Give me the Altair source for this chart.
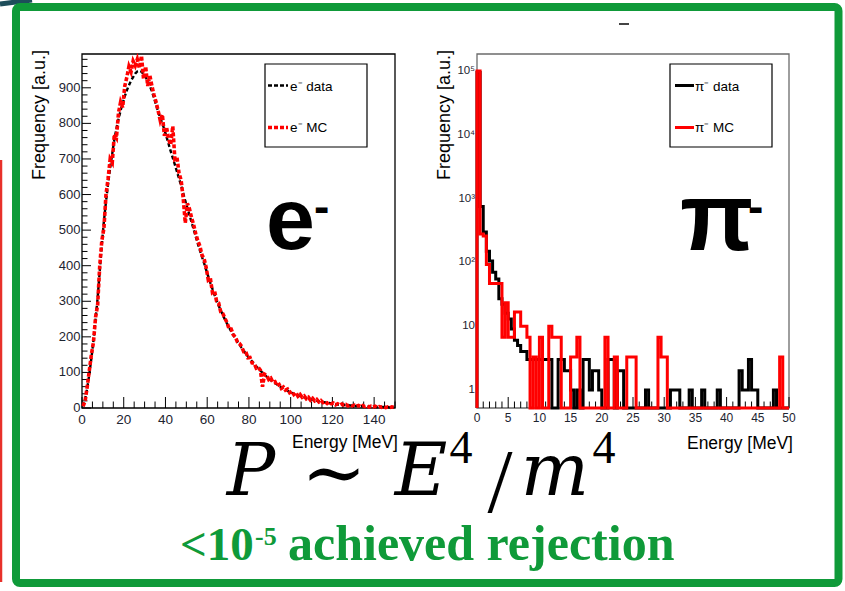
import altair as alt
import pandas as pd

# ---------------- electron spectrum: 1 MeV bins, 0-150 MeV ----------------
e_data = [5, 25, 55, 95, 140, 190, 250, 310, 385, 460,
          525, 580, 630, 675, 715, 755, 785, 812, 836, 857,
          876, 893, 907, 920, 930, 940, 946, 948, 945, 938,
          930, 920, 905, 890, 872, 852, 833, 815, 800, 782,
          762, 742, 722, 703, 684, 664, 645, 625, 604, 582,
          562, 542, 522, 502, 482, 462, 443, 425, 407, 388,
          370, 352, 335, 318, 302, 288, 274, 261, 249, 237,
          226, 215, 205, 196, 187, 178, 169, 161, 153, 145,
          138, 131, 124, 117, 111, 105, 99, 93, 88, 83,
          78, 74, 70, 66, 62, 58, 55, 52, 49, 46,
          43, 40, 38, 36, 34, 32, 30, 28, 26, 25,
          23, 22, 20, 19, 18, 17, 16, 15, 14, 13,
          12, 11, 10, 10, 9, 9, 8, 8, 7, 7,
          6, 6, 6, 5, 5, 5, 4, 4, 4, 4,
          3, 3, 3, 3, 3, 2, 2, 2, 2, 2]

e_mc = [5, 20, 60, 105, 150, 185, 255, 290, 400, 470,
        505, 600, 645, 700, 690, 770, 760, 830, 860, 845,
        905, 930, 960, 945, 975, 962, 980, 955, 990, 925,
        960, 905, 935, 905, 880, 860, 835, 808, 825, 765,
        790, 755, 740, 792, 700, 705, 660, 640, 590, 520,
        575, 560, 535, 515, 490, 470, 455, 430, 420, 395,
        360, 365, 325, 330, 300, 295, 270, 265, 252, 240,
        222, 222, 206, 200, 185, 181, 173, 158, 158, 141,
        142, 127, 126, 112, 114, 106, 60, 95, 92, 80,
        84, 72, 74, 62, 66, 55, 59, 50, 53, 43,
        47, 38, 44, 33, 38, 30, 34, 26, 30, 22,
        27, 20, 24, 17, 21, 15, 18, 13, 17, 12,
        14, 9, 12, 8, 11, 8, 10, 6, 9, 6,
        8, 5, 7, 4, 7, 4, 6, 3, 5, 3,
        5, 2, 4, 2, 4, 1, 3, 1, 3, 2]

# ---------------- pion spectrum: 0.5 MeV bins, 0-50 MeV ----------------
pi_data = [95000, 750, 300, 150, 105, 70, 55, 27, 22, 16,
           13, 9, 6, 5, 4, 4, 3, 3, 3, 3,
           3, 3, 3, 3, 0, 0, 3, 3, 2, 2,
           1, 0, 1, 0, 3, 3, 1, 2, 2, 1,
           0, 0, 3, 3, 0, 2, 2, 0, 0, 0,
           0, 0, 0, 0, 1, 0, 0, 0, 0, 0,
           0, 0, 1, 1, 1, 0, 0, 0, 1, 0,
           0, 0, 1, 0, 0, 0, 0, 1, 0, 0,
           0, 0, 0, 0, 2, 1, 1, 3, 1, 1,
           0, 0, 0, 0, 0, 1, 0, 0, 0, 0]

pi_mc = [100000, 280, 260, 93, 46.7, 46.7, 46.7, 46.7, 6.7, 23.3,
         6.7, 6.7, 16.7, 16.7, 10, 10, 6.7, 0, 3.3, 0,
         6.7, 0, 0, 10, 6.7, 6.7, 6.7, 0, 0, 0,
         3.3, 3.3, 6.7, 0, 0, 0, 0, 0, 0, 0,
         0, 6.7, 0, 0, 3.3, 0, 0, 0, 3.3, 3.3,
         3.3, 0, 0, 0, 0, 0, 0, 0, 6.7, 3.3,
         3.3, 0, 0, 0, 0, 0, 0, 0, 0, 0,
         0, 0, 0, 0, 0, 0, 0, 0, 0, 0,
         0, 0, 0, 0, 0, 0, 0, 0, 0, 0,
         0, 0, 0, 0, 0, 0, 0, 3.3, 0, 0]

E_BIN = 1.0
PI_BIN = 0.5

# tick positions and tick labels
e_x_major = list(range(0, 141, 20))
e_x_minor = [v for v in range(0, 151, 5) if v % 20]
e_y_major = list(range(0, 901, 100))
e_y_minor = [v for v in range(0, 991, 20) if v % 100]
pi_x_major = list(range(0, 51, 5))
pi_x_minor = [v for v in range(0, 51) if v % 5]
pi_y_major = [1, 10, 100, 1000, 10000, 100000]
pi_y_labels = ["1", "10", "10²", "10³", "10⁴", "10⁵"]

E_MAX, E_FREQ_MAX = 150, 995
PI_MAX, PI_FREQ_MIN, PI_FREQ_MAX = 50, 0.522, 1.85e5

GREEN = "#0f9a39"
RED = "#ff0000"
SANS = "Liberation Sans"
SERIF = "Liberation Serif"
MATH = "DejaVu Serif"
LABEL = "#1d2430"

# frame geometry (pixels on the canvas)
LX0, LX1 = 82, 395
RX0, RX1 = 477, 789
FY0, FY1 = 408, 54

ex = alt.Scale(domain=[0, E_MAX], range=[LX0, LX1], nice=False, zero=False)
ey = alt.Scale(domain=[0, E_FREQ_MAX], range=[FY0, FY1], nice=False, zero=False)
px = alt.Scale(domain=[0, PI_MAX], range=[RX0, RX1], nice=False, zero=False)
py = alt.Scale(type="log", domain=[PI_FREQ_MIN, PI_FREQ_MAX], range=[FY0, FY1], nice=False)

one = pd.DataFrame({"_": [0]})


def frame(xs, ys, x0, x1, y0, y1, color):
    df = pd.DataFrame({"x0": [x0], "x1": [x1], "y0": [y0], "y1": [y1]})
    return alt.Chart(df).mark_rect(fillOpacity=0, stroke=color, strokeWidth=1.3).encode(
        x=alt.X("x0:Q", scale=xs, axis=None), x2="x1",
        y=alt.Y("y0:Q", scale=ys, axis=None), y2="y1")


def x_ticks(values, xs, length):
    return alt.Chart(pd.DataFrame({"t": values})).mark_rule(color="black", strokeWidth=1).encode(
        x=alt.X("t:Q", scale=xs, axis=None), y=alt.value(FY0), y2=alt.value(FY0 - length))


def y_ticks(values, ys, x0, length):
    return alt.Chart(pd.DataFrame({"t": values})).mark_rule(color="black", strokeWidth=1).encode(
        y=alt.Y("t:Q", scale=ys, axis=None), x=alt.value(x0), x2=alt.value(x0 + length))


def x_labels(values, xs, size):
    return alt.Chart(pd.DataFrame({"t": values})).mark_text(
        font=SANS, fontSize=size, color=LABEL, align="center", baseline="top").encode(
        x=alt.X("t:Q", scale=xs, axis=None), y=alt.value(FY0 + 4.5),
        text=alt.Text("t:Q", format="d"))


def y_labels(values, labels, ys, x_right, size):
    df = pd.DataFrame({"t": values, "lab": labels})
    return alt.Chart(df).mark_text(
        font=SANS, fontSize=size, color=LABEL, align="right", baseline="middle").encode(
        y=alt.Y("t:Q", scale=ys, axis=None), x=alt.value(x_right), text="lab:N")


def text(s, x, y, size, font=SANS, weight="normal", style="normal", color="black",
         align="left", angle=0):
    return alt.Chart(one).mark_text(text=s, font=font, fontSize=size, fontWeight=weight,
                                    fontStyle=style, color=color, align=align, angle=angle,
                                    baseline="alphabetic").encode(
        x=alt.value(x), y=alt.value(y))


def seg(x, y, x2, y2, color, width, dash=None):
    kw = dict(color=color, strokeWidth=width, strokeCap="butt")
    if dash:
        kw["strokeDash"] = dash
    return alt.Chart(one).mark_rule(**kw).encode(
        x=alt.value(x), y=alt.value(y), x2=alt.value(x2), y2=alt.value(y2))


def box(x, y, x2, y2, stroke, width, fill_opacity=1.0, radius=0):
    return alt.Chart(one).mark_rect(fill="white", fillOpacity=fill_opacity, stroke=stroke,
                                    strokeWidth=width, cornerRadius=radius).encode(
        x=alt.value(x), y=alt.value(y), x2=alt.value(x2), y2=alt.value(y2))


# ---------------- left panel: electrons ----------------
e_df = pd.DataFrame({"E": [(i + 0.5) * E_BIN for i in range(len(e_data))],
                     "data": e_data, "mc": e_mc})

e_black = alt.Chart(e_df).mark_line(color="black", strokeWidth=2.4, strokeDash=[4, 2.5]).encode(
    x=alt.X("E:Q", scale=ex, axis=None), y=alt.Y("data:Q", scale=ey, axis=None))
e_red = alt.Chart(e_df).mark_line(color=RED, strokeWidth=3.6, strokeDash=[4, 2]).encode(
    x=alt.X("E:Q", scale=ex, axis=None), y=alt.Y("mc:Q", scale=ey, axis=None))

left = alt.layer(
    frame(ex, ey, 0, E_MAX, 0, E_FREQ_MAX, "black"),
    x_ticks(e_x_major, ex, 11), x_ticks(e_x_minor, ex, 6.5),
    y_ticks(e_y_major, ey, LX0, 9), y_ticks(e_y_minor, ey, LX0, 5.5),
    x_labels(e_x_major, ex, 13.5),
    y_labels(e_y_major, [str(v) for v in e_y_major], ey, LX0 - 1.5, 13),
    e_black, e_red)


# ---------------- right panel: pions (log scale, step histogram) ----------------
def step_table(counts, width):
    rows = [{"E": 0.0, "n": 0.0, "k": 0}]
    for i, c in enumerate(counts):
        rows.append({"E": i * width, "n": c, "k": i + 1})
    end = len(counts) * width
    rows.append({"E": end, "n": counts[-1], "k": len(counts) + 1})
    rows.append({"E": end, "n": 0.0, "k": len(counts) + 2})
    return pd.DataFrame(rows)


def pi_line(counts, color):
    # empty bins sit on the lower edge of the log axis
    return alt.Chart(step_table(counts, PI_BIN)).transform_calculate(
        shown=f"max(datum.n, {PI_FREQ_MIN})"
    ).mark_line(color=color, strokeWidth=3, interpolate="step-after", strokeJoin="miter").encode(
        x=alt.X("E:Q", scale=px, axis=None),
        y=alt.Y("shown:Q", scale=py, axis=None),
        order=alt.Order("k:Q"))


right = alt.layer(
    frame(px, py, 0, PI_MAX, PI_FREQ_MIN, PI_FREQ_MAX, "#6b6b6b"),
    x_ticks(pi_x_major, px, 11), x_ticks(pi_x_minor, px, 6.5),
    x_labels(pi_x_major, px, 12),
    y_labels(pi_y_major, pi_y_labels, py, RX0 - 2, 11.5),
    pi_line(pi_data, "black"),
    pi_line(pi_mc, RED))

# ---------------- axis titles ----------------
titles = [
    text("Frequency [a.u.]", 45, 50, 18, align="right", angle=270),
    text("Energy [MeV]", 398, 448, 17.5, align="right"),
    text("Frequency [a.u.]", 449.5, 50, 18, align="right", angle=270),
    text("Energy [MeV]", 793, 449, 17.5, align="right"),
]

legends = [
    box(265, 64, 367, 147, "black", 1.2),
    seg(268, 85.5, 288, 85.5, "black", 2.5, [4, 2]),
    text("e⁻ data", 290, 91, 13.5),
    seg(268, 127.5, 288, 127.5, RED, 3.5, [4, 2]),
    text("e⁻ MC", 290, 132, 13.5),
    box(670, 64, 772, 147, "black", 1.2),
    seg(675, 85.5, 694, 85.5, "black", 3),
    text("π⁻ data", 695, 91, 13.5),
    seg(675, 127.5, 694, 127.5, RED, 3),
    text("π⁻ MC", 695, 132, 13.5),
]

particles = [
    text("e", 266, 249, 88, weight="bold"),
    text("-", 314, 222, 46, weight="bold"),
    text("π", 680, 250, 96, weight="bold"),
    text("-", 748, 222, 46, weight="bold"),
]

formula = [
    text("P", 251, 495, 72, font=MATH, style="italic", align="center"),
    text("∼", 334, 499, 78, font=MATH, align="center"),
    text("E", 421, 495, 72, font=MATH, style="italic", align="center"),
    text("4", 461, 463, 46, font=SERIF, align="center"),
    text("/", 500, 512, 90, font=SERIF, align="center"),
    text("m", 555, 495, 72, font=MATH, style="italic", align="center"),
    text("4", 604, 463, 46, font=SERIF, align="center"),
]

rejection = [
    text("<10", 180, 560, 47, font=SERIF, weight="bold", color=GREEN),
    text("-5", 255, 545, 26, font=SERIF, weight="bold", color=GREEN),
    text("achieved rejection", 288, 560, 50, font=SERIF, weight="bold", color=GREEN),
]

slide = [
    seg(0, 4, 32, 0, "#1d4d5a", 5),
    seg(1, 160, 1, 582, "#e8302a", 2.5),
    seg(619, 24, 629, 24, "#444444", 2),
    box(16, 7, 838.5, 583, GREEN, 8, fill_opacity=0, radius=4),
]

chart = alt.layer(
    left, right, *slide, *titles, *legends, *particles, *formula, *rejection
).resolve_scale(
    x="independent", y="independent"
).properties(
    width=845, height=591, padding=0, autosize=alt.AutoSizeParams(type="none"),
    background="white"
).configure_view(stroke=None)

chart.save("out.html", embed_options={"renderer": "svg", "actions": False})
